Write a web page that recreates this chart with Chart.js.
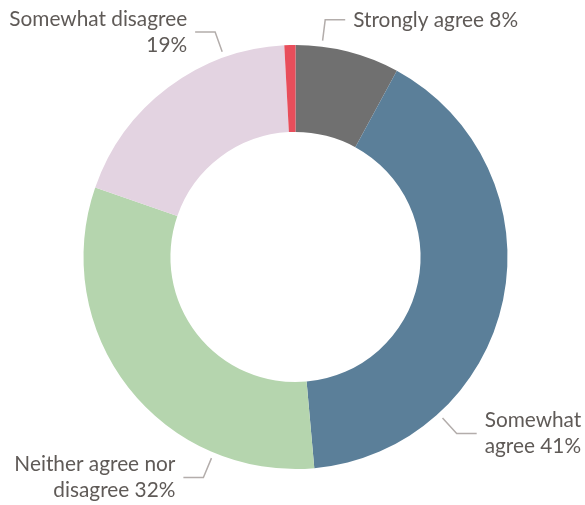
<!DOCTYPE html>
<html>
<head>
<meta charset="utf-8">
<script src="https://cdn.jsdelivr.net/npm/chart.js@4/dist/chart.umd.min.js"></script>
<style>
  html, body { margin: 0; padding: 0; background: #fff; }
  #wrap { width: 585px; height: 505px; position: relative; }
</style>
</head>
<body>
<div id="wrap"><canvas id="myChart"></canvas></div>
<script>
const labels = ['Strongly agree', 'Somewhat agree', 'Neither agree nor disagree', 'Somewhat disagree', 'Strongly disagree'];
const values = [8, 41, 32, 19, 0.85];
const colors = ['#707070', '#5b7f99', '#b5d5ae', '#e3d3e1', '#e84e5b'];

// label text lines, per slice (null = no label)
const labelLines = [
    ['Strongly agree 8%'],
    ['Somewhat', 'agree 41%'],
    ['Neither agree nor', 'disagree 32%'],
    ['Somewhat disagree', '19%'],
    null
];
// where on the slice the leader line starts (fraction of the arc)
const anchorFrac = [0.25, 0.745, 0.243, 0.755, 0.5];

const leaderPlugin = {
    id: 'leaders',
    afterDatasetsDraw(chart) {
        const ctx = chart.ctx;
        const meta = chart.getDatasetMeta(0);
        ctx.save();
        ctx.font = '20.8px Lato';
        ctx.textBaseline = 'middle';
        meta.data.forEach((arc, i) => {
            const lines = labelLines[i];
            if (!lines) return;
            const a = arc.startAngle + (arc.endAngle - arc.startAngle) * anchorFrac[i];
            const r = arc.outerRadius;
            const x0 = arc.x + Math.cos(a) * (r + 6);
            const y0 = arc.y + Math.sin(a) * (r + 6);
            const x1 = arc.x + Math.cos(a) * (r + 27);
            const y1 = arc.y + Math.sin(a) * (r + 27);
            const right = Math.cos(a) >= 0;
            const x2 = x1 + (right ? 20 : -20);

            ctx.strokeStyle = '#b3adab';
            ctx.lineWidth = 1.5;
            ctx.beginPath();
            ctx.moveTo(x0, y0);
            ctx.lineTo(x1, y1);
            ctx.lineTo(x2, y1);
            ctx.stroke();

            ctx.fillStyle = '#5f5a57';
            ctx.textAlign = right ? 'left' : 'right';
            const lh = 26;
            const tx = x2 + (right ? 8 : -8);
            const top = y1 - (lines.length - 1) * lh / 2;
            lines.forEach((t, k) => ctx.fillText(t, tx, top + k * lh));
        });
        ctx.restore();
    }
};

const ctx = document.getElementById('myChart');

new Chart(ctx, {
    type: 'doughnut',
    data: {
        labels: labels,
        datasets: [{
            data: values,
            backgroundColor: colors,
            borderWidth: 0
        }]
    },
    options: {
        responsive: true,
        maintainAspectRatio: false,
        animation: false,
        cutout: '59%',
        layout: {
            padding: { top: 45, bottom: 36, left: 83, right: 77 }
        },
        plugins: {
            legend: { display: false },
            tooltip: { enabled: false }
        }
    },
    plugins: [leaderPlugin]
});
</script>
</body>
</html>
